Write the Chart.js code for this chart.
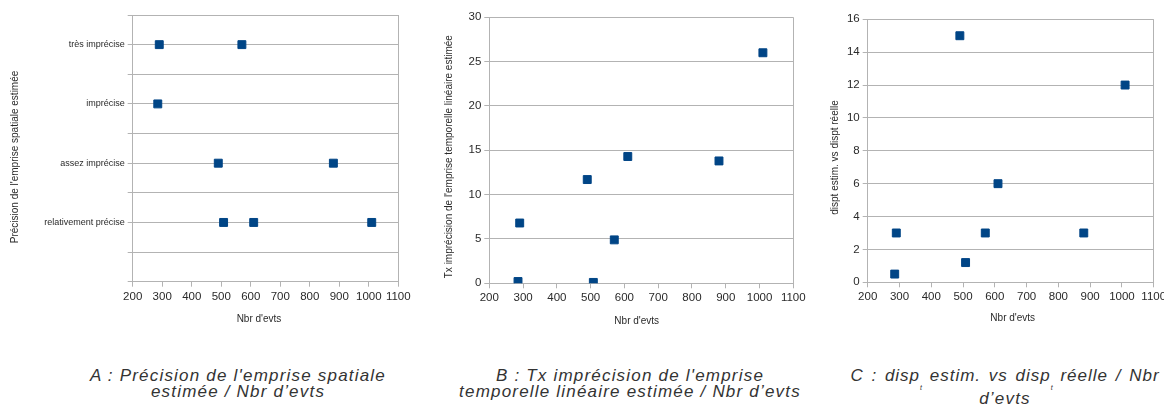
<!DOCTYPE html>
<html>
<head>
<meta charset="utf-8">
<script src="https://cdn.jsdelivr.net/npm/chart.js@4/dist/chart.umd.min.js"></script>
<style>
  html, body { margin:0; padding:0; background:#fff; width:1164px; height:416px; overflow:hidden; }
  body { position:relative; font-family:"Liberation Sans", Arial, sans-serif; }
  canvas { position:absolute; }
  .cap { position:absolute; width:420px; text-align:center; white-space:nowrap;
         font-style:italic; font-size:17px; letter-spacing:1.2px; color:#333; line-height:16px; }
  .cap div { height:16px; }
  .sub { font-size:7px; line-height:7px; vertical-align:-9px; letter-spacing:0; }
</style>
</head>
<body>
<canvas id="cA" width="420" height="330" style="left:0px;top:0px;width:420px;height:330px"></canvas>
<canvas id="cB" width="400" height="335" style="left:425px;top:0px;width:400px;height:335px"></canvas>
<canvas id="cC" width="364" height="330" style="left:820px;top:0px;width:364px;height:330px"></canvas>

<div class="cap" style="left:28px;top:367.6px">
  <div>A : Précision de l'emprise spatiale</div>
  <div>estimée / Nbr d’evts</div>
</div>
<div class="cap" style="left:420px;top:367.6px">
  <div>B : Tx imprécision de l'emprise</div>
  <div>temporelle linéaire estimée / Nbr d’evts</div>
</div>
<div class="cap" style="left:795px;top:367.6px">
  <div style="letter-spacing:1px;word-spacing:2px">C : disp<span class="sub">t</span> estim. vs disp<span class="sub">t</span> réelle / Nbr</div>
  <div style="margin-top:7.5px">d’evts</div>
</div>

<script>
// ---- data ----
const nbrEvts = [285, 290, 490, 508, 570, 610, 880, 1010];
const precisionCategories = ['relativement précise', 'assez imprécise', 'imprécise', 'très imprécise'];
const precisionA = ['imprécise', 'très imprécise', 'assez imprécise', 'relativement précise',
                    'très imprécise', 'relativement précise', 'assez imprécise', 'relativement précise'];
const txImprecisionB = [0.2, 6.8, 11.7, 0.1, 4.9, 14.3, 13.8, 26];
const dispC = [0.5, 3, 15, 1.2, 3, 6, 3, 12];
const xTicks = [200, 300, 400, 500, 600, 700, 800, 900, 1000, 1100];
const titleA = "Précision de l'emprise spatiale estimée";
const titleB = "Tx imprécision de l'emprise temporelle linéaire estimée";
const titleC = "dispt estim. vs dispt réelle";
const xTitle = "Nbr d'evts";

// ---- styles ----
const GRID = '#b3b3b3';
const TXT = '#2a2a2a';
const BLUE = '#004586';
const FONT = '"Liberation Sans", Arial, sans-serif';

// shift a scale's own title drawing by (dx, dy)
function shiftTitle(scale, dx, dy) {
  if (scale._shiftWrapped) return;
  scale._shiftWrapped = true;
  const orig = scale.drawTitle.bind(scale);
  scale.drawTitle = function () {
    const ctx = this.ctx;
    ctx.save();
    ctx.translate(dx, dy);
    orig();
    ctx.restore();
  };
}

function makeChart(id, points, cfg) {
  const ctx = document.getElementById(id);
  return new Chart(ctx, {
    type: 'scatter',
    data: { datasets: [{
      data: points,
      pointStyle: 'rect',
      pointRadius: 5.6,
      pointHoverRadius: 5.6,
      backgroundColor: BLUE,
      borderColor: BLUE,
      borderWidth: 1
    }]},
    options: {
      responsive: false,
      animation: false,
      devicePixelRatio: 1,
      layout: { padding: cfg.padding },
      plugins: { legend: { display: false }, tooltip: { enabled: false } },
      scales: {
        x: {
          type: 'linear',
          min: xTicks[0], max: xTicks[xTicks.length - 1],
          afterBuildTicks: (s) => { s.ticks = xTicks.map(v => ({ value: v })); },
          afterFit: (s) => { s.height = cfg.xH; shiftTitle(s, cfg.xtShift, 0); },
          grid: {
            color: (c) => (c.index === xTicks.length - 1 ? GRID : 'rgba(0,0,0,0)'),
            tickColor: GRID, tickLength: 5, lineWidth: 1
          },
          border: { display: true, color: GRID },
          ticks: { color: TXT, font: { family: FONT, size: 11.5 }, padding: 3, autoSkip: false, maxRotation: 0,
                   callback: (v) => String(v) },
          title: { display: true, text: xTitle, color: TXT, font: { family: FONT, size: 10 }, padding: { top: 0, bottom: cfg.xtPad } }
        },
        y: {
          type: 'linear',
          min: cfg.yMin, max: cfg.yMax,
          ticks: { color: TXT, font: { family: FONT, size: cfg.yFont }, padding: 3, autoSkip: false, stepSize: cfg.yStep,
                   callback: cfg.yTickCb || ((v) => String(v)) },
          afterFit: (s) => { s.width = cfg.yW; shiftTitle(s, 0, cfg.ytShift); },
          grid: { color: GRID, tickColor: GRID, tickLength: 5, lineWidth: 1 },
          border: { display: true, color: GRID },
          title: { display: true, text: cfg.yTitle, color: TXT, font: { family: FONT, size: 10 }, padding: { top: cfg.ytPad, bottom: 0 } }
        }
      }
    }
  });
}

const ptsA = nbrEvts.map((x, i) => ({ x: x, y: precisionCategories.indexOf(precisionA[i]) + 1 }));
const ptsB = nbrEvts.map((x, i) => ({ x: x, y: txImprecisionB[i] }));
const ptsC = nbrEvts.map((x, i) => ({ x: x, y: dispC[i] }));

makeChart('cA', ptsA, {
  padding: { top: 15, right: 21.7, left: 0, bottom: 0 },
  yW: 132.7, xH: 48.3, ytPad: 9, xtPad: 5, ytShift: 8.6, xtShift: -6.5,
  yMin: 0, yMax: 4.5, yStep: 0.5, yFont: 9,
  yTickCb: (v) => (Number.isInteger(v) && v >= 1 && v <= precisionCategories.length ? precisionCategories[v - 1] : ''),
  yTitle: titleA
});
makeChart('cB', ptsB, {
  padding: { top: 17.3, right: 31.7, left: 0, bottom: 0 },
  yW: 64.3, xH: 51.7, ytPad: 18.3, xtPad: 7.3, ytShift: 6.4, xtShift: -4.6,
  yMin: 0, yMax: 30, yStep: 5, yFont: 11.5,
  yTitle: titleB
});
makeChart('cC', ptsC, {
  padding: { top: 19.3, right: 30.3, left: 0, bottom: 0 },
  yW: 47.7, xH: 47.7, ytPad: 9, xtPad: 6, ytShift: 6.7, xtShift: 2,
  yMin: 0, yMax: 16, yStep: 2, yFont: 11.5,
  yTitle: titleC
});
</script>
</body>
</html>
